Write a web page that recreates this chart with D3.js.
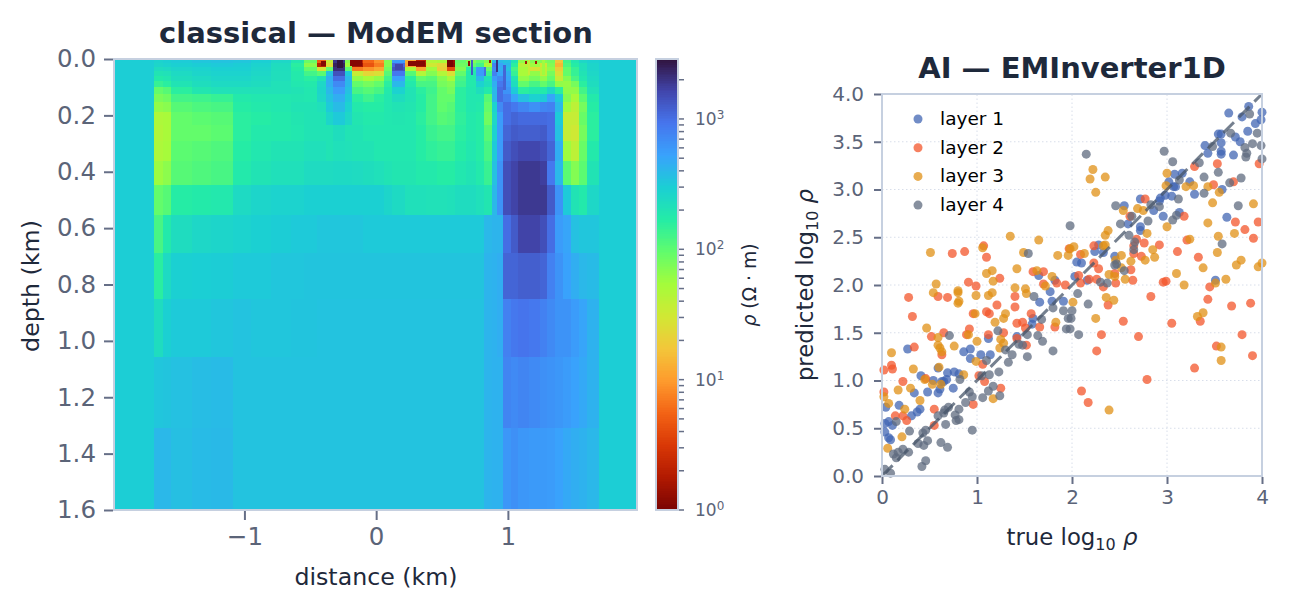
<!DOCTYPE html>
<html>
<head>
<meta charset="utf-8">
<script src="https://cdnjs.cloudflare.com/ajax/libs/d3/7.8.5/d3.min.js"></script>
<style>
	html, body { margin: 0; padding: 0; background: #fff; }
	svg { display: block; }
	text { font-family: "DejaVu Sans", sans-serif; }
</style>
</head>
<body>
<script>
// section mesh: cell edges in km
var xEdges = [-1.99,-1.69,-1.62,-1.555,-1.4,-1.25,-1.09,-0.95,-0.8,-0.65,-0.55,-0.45,-0.38,-0.33,-0.24,-0.18,-0.1,-0.02,0.06,0.12,0.22,0.3,0.38,0.46,0.54,0.6,0.68,0.76,0.82,0.88,0.92,0.96,1.02,1.08,1.16,1.24,1.3,1.36,1.42,1.48,1.54,1.6,1.69,1.98];
var depthEdges = [0,0.014,0.028,0.043,0.06,0.078,0.099,0.124,0.152,0.188,0.234,0.291,0.362,0.447,0.553,0.688,0.851,1.057,1.309,1.6];

// log10 resistivity per depth row, one value per x cell
var logRho = [
[2.477,2.44,2.46,2.49,2.52,2.54,2.52,2.47,2.4,2.27,1.95,0.7,1.55,3.3,1.85,0.35,0.75,0.95,1.85,2.75,1.1,0.3,1.65,1.7,0.15,1.97,1.85,1.97,1.85,2.6,2.6,2.55,2.3,1.8,1.85,1.85,1.9,1.25,2.1,2.27,2.4,2.45,2.477],
[2.477,2.42,2.44,2.46,2.48,2.5,2.48,2.44,2.36,2.2,1.82,0.3,1.4,3.38,1.75,0.2,0.65,0.85,1.85,3.02,1.05,0.2,1.5,1.35,0.1,1.92,1.97,2.1,1.7,2.9,2.7,2.6,2.2,1.62,1.75,1.5,1.85,1.15,2.05,2.22,2.33,2.42,2.477],
[2.477,2.36,2.38,2.42,2.44,2.46,2.46,2.42,2.35,2.22,1.97,1.45,1.97,3.32,2.0,0.85,0.95,1.05,1.92,3.12,1.7,1.05,1.75,1.3,0.6,1.85,2.2,2.75,1.97,2.85,2.65,2.55,2.1,1.7,1.45,1.6,1.8,1.3,1.97,2.15,2.33,2.42,2.477],
[2.477,2.3,2.32,2.38,2.42,2.44,2.44,2.4,2.34,2.25,2.1,2.0,2.55,3.15,2.5,1.55,1.35,1.42,2.02,2.95,2.02,1.65,1.85,1.65,1.42,1.97,2.25,2.75,2.12,2.9,2.7,2.65,2.15,1.7,1.8,1.6,1.9,1.42,1.97,2.15,2.3,2.4,2.477],
[2.477,2.24,2.27,2.35,2.38,2.41,2.41,2.38,2.34,2.25,2.2,2.3,2.65,3.0,2.6,1.8,1.72,1.8,2.12,2.72,2.2,1.97,2.02,1.85,1.72,2.08,2.25,2.6,2.3,2.75,2.85,2.7,2.3,1.8,1.9,1.8,1.97,1.55,1.85,2.08,2.27,2.38,2.477],
[2.477,2.15,2.2,2.3,2.35,2.38,2.38,2.36,2.32,2.27,2.25,2.4,2.65,2.85,2.6,1.97,1.9,1.97,2.2,2.6,2.25,2.08,2.08,1.9,1.85,2.12,2.25,2.45,2.35,2.65,2.95,2.75,2.35,1.97,2.08,1.97,2.08,1.8,1.78,1.9,2.2,2.36,2.477],
[2.477,1.97,2.02,2.2,2.28,2.32,2.32,2.32,2.32,2.3,2.27,2.42,2.6,2.75,2.55,2.08,2.02,2.08,2.25,2.45,2.3,2.2,2.12,1.97,1.9,2.2,2.27,2.35,2.25,2.6,3.0,2.8,2.5,2.2,2.25,2.25,2.4,2.2,1.8,1.8,2.1,2.32,2.477],
[2.477,1.88,1.92,2.1,2.12,2.15,2.25,2.27,2.27,2.28,2.27,2.4,2.55,2.65,2.5,2.2,2.12,2.2,2.27,2.36,2.3,2.22,2.1,1.97,1.97,2.2,2.27,2.27,2.02,2.6,3.0,2.9,2.7,2.55,2.45,2.5,2.7,2.5,1.85,1.7,2.0,2.25,2.477],
[2.477,1.8,1.83,2.02,2.06,2.08,2.22,2.25,2.27,2.3,2.3,2.33,2.5,2.58,2.45,2.25,2.22,2.22,2.27,2.3,2.28,2.22,2.1,1.98,2.02,2.2,2.27,2.25,1.97,2.45,2.85,3.0,2.95,2.88,2.82,2.88,2.9,2.6,1.75,1.6,1.9,2.22,2.477],
[2.477,1.68,1.7,1.97,2.0,2.02,2.2,2.22,2.25,2.28,2.3,2.3,2.42,2.5,2.4,2.28,2.25,2.25,2.27,2.28,2.27,2.2,2.1,2.02,2.05,2.18,2.25,2.22,1.92,2.4,2.75,3.0,3.05,3.02,3.02,3.02,3.0,2.5,1.55,1.55,1.95,2.2,2.477],
[2.477,1.66,1.7,1.97,1.97,2.0,2.2,2.25,2.25,2.27,2.3,2.3,2.3,2.35,2.3,2.3,2.27,2.27,2.27,2.27,2.27,2.22,2.14,2.1,2.1,2.2,2.25,2.22,2.02,2.45,2.75,3.05,3.1,3.08,3.08,3.1,3.0,2.55,1.55,1.5,1.9,2.2,2.477],
[2.477,1.68,1.72,2.0,2.02,2.05,2.22,2.27,2.3,2.3,2.33,2.33,2.3,2.33,2.32,2.3,2.3,2.27,2.27,2.27,2.27,2.22,2.18,2.15,2.15,2.22,2.27,2.22,2.08,2.5,2.75,3.1,3.16,3.2,3.2,3.16,3.05,2.65,1.75,1.6,1.95,2.25,2.477],
[2.477,1.76,1.82,2.02,2.05,2.08,2.25,2.3,2.33,2.33,2.37,2.37,2.37,2.38,2.38,2.37,2.35,2.33,2.3,2.28,2.28,2.25,2.25,2.22,2.22,2.27,2.3,2.25,2.14,2.55,2.8,3.16,3.22,3.27,3.27,3.24,2.95,2.6,2.0,1.85,2.0,2.3,2.477],
[2.477,1.97,2.02,2.22,2.24,2.26,2.38,2.42,2.44,2.44,2.46,2.46,2.46,2.46,2.46,2.46,2.46,2.46,2.42,2.38,2.33,2.33,2.32,2.32,2.33,2.36,2.36,2.33,2.28,2.6,2.8,3.16,3.22,3.27,3.27,3.27,3.1,2.8,2.5,2.3,2.25,2.4,2.477],
[2.477,2.08,2.25,2.36,2.4,2.42,2.44,2.46,2.48,2.5,2.5,2.52,2.52,2.52,2.52,2.52,2.5,2.5,2.5,2.5,2.5,2.5,2.5,2.5,2.5,2.5,2.5,2.5,2.6,2.62,2.62,3.0,3.1,3.22,3.22,3.16,3.0,2.75,2.7,2.55,2.52,2.52,2.477],
[2.477,2.2,2.38,2.46,2.47,2.48,2.5,2.5,2.52,2.52,2.53,2.53,2.53,2.53,2.53,2.53,2.53,2.53,2.53,2.53,2.53,2.53,2.53,2.53,2.53,2.53,2.53,2.53,2.62,2.63,2.65,3.05,3.05,3.08,3.08,3.05,2.9,2.8,2.72,2.65,2.6,2.58,2.477],
[2.477,2.36,2.46,2.5,2.5,2.52,2.54,2.52,2.52,2.53,2.53,2.54,2.54,2.54,2.54,2.54,2.54,2.54,2.54,2.54,2.54,2.54,2.54,2.54,2.54,2.54,2.54,2.54,2.62,2.63,2.65,2.9,2.95,2.97,2.95,2.9,2.85,2.8,2.8,2.75,2.7,2.63,2.477],
[2.477,2.52,2.53,2.55,2.57,2.58,2.54,2.54,2.54,2.54,2.54,2.54,2.54,2.54,2.54,2.54,2.54,2.54,2.54,2.54,2.54,2.54,2.54,2.54,2.54,2.54,2.54,2.54,2.62,2.63,2.63,2.88,2.85,2.88,2.85,2.82,2.8,2.78,2.75,2.72,2.68,2.63,2.477],
[2.477,2.6,2.6,2.56,2.58,2.59,2.54,2.54,2.54,2.54,2.54,2.54,2.54,2.54,2.54,2.54,2.54,2.54,2.54,2.54,2.54,2.54,2.54,2.54,2.54,2.54,2.54,2.54,2.62,2.63,2.63,2.78,2.82,2.78,2.76,2.76,2.75,2.72,2.68,2.65,2.63,2.6,2.477]
];

// thin near-surface cells: x0, x1, d0, d1 (km), log10 rho
var surfaceCells = [
[-0.42,-0.377,0.007,0.025,0.05],[-0.30,-0.25,0,0.032,3.45],[-0.2,-0.11,0.004,0.025,0.05],
[0.14,0.2,0.018,0.04,3.2],[0.24,0.37,0.007,0.025,0.05],[0.535,0.58,0.004,0.03,0],
[0.695,0.715,0.007,0.025,0.1],[0.72,0.735,0,0.055,3.1],[0.82,0.835,0.03,0.06,3.0],
[0.855,0.87,0.004,0.014,0.2],[0.91,0.925,0,0.045,3.3],[0.965,0.985,0.02,0.11,3.05],
[1.13,1.145,0.007,0.018,0.2],[1.205,1.22,0.007,0.018,0.2],[1.155,1.17,0.004,0.055,1.55],[1.26,1.28,0.004,0.055,1.75]
];

var depthTicks = [0,0.2,0.4,0.6,0.8,1.0,1.2,1.4,1.6];
var distTicks = [-1,0,1];
var barMajor = [1,10,100,1000];
var barExp = [0,1,2,3];
var barMinor = [2,3,4,5,6,7,8,9,20,30,40,50,60,70,80,90,200,300,400,500,600,700,800,900,2000];

// reversed turbo, evenly spaced stops, dark red at rho = 1
var turboStops = ["#7a0403","#b11901","#d93806","#f36315","#fe9b2d","#f3c63a","#d1e834","#a4fc3b","#61fc6c","#24eca6","#1bcfd4","#39a2fc","#4675ed","#4145ab","#30123b"];

// true / predicted log10 rho
var layer1 = [[3.86,3.87],[3.65,3.80],[3.79,3.76],[4.0,3.81],[3.99,3.73],[3.93,3.69],[3.85,3.61],[3.54,3.58],[3.57,3.58],[3.57,3.49],[3.72,3.55],[3.77,3.50],[3.40,3.46],[3.43,3.38],[3.57,3.40],[3.57,3.37],[3.70,3.36],[3.16,3.17],[3.08,3.16],[3.02,3.08],[3.24,3.08],[3.07,3.03],[3.09,3.03],[3.58,3.0],[3.29,2.95],[2.98,2.94],[2.93,2.91],[2.92,2.88],[3.05,2.93],[2.72,2.90],[2.55,2.83],[2.86,2.78],[3.13,2.76],[2.96,2.72],[3.63,2.71],[2.59,2.64],[2.72,2.61],[2.72,2.57],[2.28,2.42],[2.24,2.35],[2.33,2.34],[2.45,2.30],[2.05,2.24],[2.10,2.23],[2.03,2.09],[3.51,2.05],[2.16,2.05],[1.65,2.10],[1.82,2.05],[0.27,1.33],[0.86,1.30],[0.93,1.33],[0.93,1.23],[1.04,1.27],[1.14,1.27],[1.12,1.44],[0.59,1.13],[0.41,1.05],[0.69,1.08],[0.76,1.09],[0.81,1.07],[0.54,1.0],[0.68,1.01],[0.65,0.99],[0.63,0.99],[0.75,0.92],[0.61,0.91],[0.59,0.87],[0.48,0.88],[0.34,0.87],[0.18,0.74],[0.04,0.72],[0.40,0.70],[0.37,0.67],[0.31,0.63],[0.07,0.57],[0.03,0.55],[0.11,0.53],[0.03,0.46],[0.07,0.40],[0.09,0.38],[1.42,1.46],[1.59,1.65],[1.58,1.59],[1.66,1.82],[1.77,1.93],[1.79,1.83],[1.91,1.83]];
var layer2 = [[3.97,3.27],[3.53,3.27],[3.29,3.24],[3.70,3.08],[3.49,3.05],[2.77,2.90],[2.61,2.72],[3.18,2.72],[3.96,2.66],[3.72,2.66],[3.82,2.58],[3.91,2.49],[2.23,2.41],[2.68,2.48],[2.76,2.44],[2.92,2.42],[3.21,2.47],[2.65,2.41],[3.11,2.35],[3.33,2.29],[2.09,2.32],[2.23,2.23],[2.28,2.17],[2.73,2.30],[2.65,2.33],[2.62,2.16],[2.07,2.10],[2.18,2.06],[2.26,2.06],[2.45,2.12],[2.64,2.05],[2.46,2.02],[2.96,2.03],[2.99,2.04],[3.45,1.98],[2.33,1.98],[2.09,2.02],[0.74,2.33],[0.87,2.35],[1.07,2.41],[1.10,2.29],[1.59,2.14],[1.70,2.14],[1.24,2.07],[0.91,2.03],[0.99,1.99],[1.97,2.38],[1.84,2.02],[1.93,2.0],[1.70,2.01],[0.28,1.87],[0.32,1.67],[0.59,1.88],[0.69,1.87],[0.96,1.70],[1.10,1.72],[1.13,1.70],[1.21,1.79],[1.40,1.88],[1.40,1.77],[1.57,1.70],[1.42,1.60],[1.48,1.61],[1.51,1.55],[1.66,1.56],[1.82,1.56],[0.65,1.50],[0.52,1.46],[0.92,1.54],[0.89,1.48],[1.12,1.48],[1.28,1.50],[1.42,1.44],[1.52,1.37],[0.34,1.35],[0.63,1.27],[1.06,1.17],[0.10,1.16],[0.02,1.11],[0.11,1.12],[0.46,1.02],[0.22,0.99],[1.08,0.99],[1.02,1.05],[1.25,0.92],[0.02,0.88],[0.55,0.70],[0.96,0.75],[0.14,0.63],[0.22,0.63],[0.26,0.58],[0.55,0.53],[2.83,1.88],[2.38,1.79],[2.54,1.62],[2.31,1.48],[2.70,1.46],[2.26,1.31],[3.05,1.60],[3.35,1.62],[3.43,1.85],[3.68,1.78],[3.88,1.81],[3.79,1.48],[3.52,1.36],[3.90,1.26],[3.29,1.13],[2.79,1.01],[2.10,0.89],[2.17,0.77]];
var layer3 = [[2.22,3.21],[2.19,3.11],[2.35,3.13],[2.25,2.97],[3.0,3.17],[2.99,3.04],[3.2,3.03],[3.28,3.04],[3.43,3.03],[3.55,2.97],[3.48,2.86],[3.91,2.85],[2.54,2.78],[2.69,2.80],[2.75,2.78],[3.0,2.61],[3.43,2.65],[3.71,2.54],[3.54,2.51],[3.24,2.48],[2.38,2.57],[2.35,2.52],[2.79,2.54],[2.35,2.42],[2.33,2.41],[2.02,2.40],[1.98,2.38],[2.13,2.33],[2.85,2.37],[3.53,2.34],[2.52,2.31],[2.87,2.29],[2.77,2.26],[2.46,2.26],[2.62,2.25],[3.78,2.26],[3.73,2.21],[3.38,2.18],[3.96,2.19],[4.0,2.23],[2.52,2.18],[2.39,2.11],[2.45,2.09],[2.56,2.06],[3.10,2.12],[3.62,2.06],[3.18,2.0],[3.51,2.02],[0.51,2.34],[1.06,2.39],[1.35,2.51],[1.65,2.47],[1.49,2.34],[1.85,2.31],[1.96,2.31],[1.42,2.17],[1.16,2.15],[1.10,2.12],[1.17,2.04],[0.57,2.01],[1.63,2.15],[1.79,2.09],[0.80,1.94],[1.72,1.99],[0.54,1.92],[0.80,1.92],[0.80,1.81],[0.81,1.83],[0.99,1.89],[1.12,1.89],[1.16,1.92],[1.40,1.97],[1.51,1.96],[1.52,1.91],[0.98,1.70],[1.30,1.70],[1.19,1.61],[1.28,1.65],[1.83,1.61],[0.47,1.55],[0.59,1.45],[0.91,1.48],[1.00,1.41],[1.25,1.43],[1.28,1.39],[0.59,1.37],[0.61,1.34],[0.63,1.30],[0.76,1.36],[1.24,1.34],[0.10,1.29],[0.99,1.20],[0.60,1.14],[0.33,1.12],[0.86,1.06],[0.45,1.01],[0.53,0.96],[0.62,0.96],[0.17,0.90],[0.30,0.92],[0.02,0.83],[0.07,0.76],[0.40,0.79],[0.24,0.70],[1.17,0.81],[0.21,0.41],[0.06,0.29],[2.36,1.87],[2.44,1.84],[2.25,1.65],[3.32,1.67],[3.38,1.71],[3.57,1.35],[3.57,1.21],[2.39,0.69],[2.01,1.82]];
var layer4 = [[3.87,3.79],[3.67,3.59],[3.95,3.59],[3.90,3.48],[3.99,3.46],[3.48,3.45],[3.82,3.44],[3.84,3.38],[3.83,3.34],[2.97,3.40],[2.15,3.37],[3.06,3.29],[3.34,3.28],[4.0,3.32],[3.54,3.18],[3.39,3.13],[3.78,3.12],[3.66,3.07],[3.13,3.10],[3.39,2.96],[3.12,2.90],[3.75,2.83],[2.92,2.82],[2.83,2.84],[2.46,2.83],[3.10,2.73],[3.06,2.68],[2.80,2.67],[2.51,2.64],[2.63,2.72],[1.98,2.62],[2.60,2.52],[2.66,2.45],[2.65,2.37],[3.58,2.43],[2.47,2.22],[2.45,2.21],[2.55,2.15],[2.30,2.03],[2.37,2.02],[1.54,2.33],[0.71,1.47],[1.22,1.52],[1.53,1.48],[1.64,1.47],[1.68,1.64],[1.60,1.88],[1.80,1.76],[1.91,1.73],[1.96,1.65],[1.94,1.54],[1.69,1.41],[1.80,1.31],[1.53,1.25],[1.48,1.37],[1.44,1.38],[1.30,1.32],[1.37,1.27],[1.33,1.19],[1.10,1.21],[1.23,1.09],[1.13,1.06],[1.05,1.05],[1.17,0.94],[1.12,0.89],[1.06,0.82],[1.24,0.84],[0.82,1.01],[0.92,0.88],[0.95,0.83],[0.88,0.77],[0.81,0.70],[0.70,0.72],[0.66,0.69],[0.65,0.66],[0.59,0.63],[0.77,0.64],[0.81,0.59],[0.78,0.58],[0.67,0.54],[0.95,0.48],[0.46,0.48],[0.29,0.47],[0.43,0.45],[0.48,0.37],[0.38,0.34],[0.44,0.32],[0.62,0.35],[0.69,0.30],[0.22,0.28],[0.28,0.25],[0.12,0.23],[0.17,0.25],[0.15,0.19],[0.46,0.16],[0.42,0.10],[0.03,0.07],[0.09,0.03],[0.15,0.57],[2.06,1.91],[2.17,1.80],[2.0,1.73],[1.99,1.65],[1.98,1.54],[2.07,1.48]];

var layerNames = ["layer 1","layer 2","layer 3","layer 4"];
var layerColors = ["#4266b3","#f3562b","#e09015","#5f6b7f"];
var layers = [layer1, layer2, layer3, layer4];
var scatterX = [0,1,2,3,4];
var scatterY = [0,0.5,1,1.5,2,2.5,3,3.5,4];

var ink = "#1e293b", tickInk = "#5b6478", spine = "#c6d0e0";

var svg = d3.select("body").append("svg")
	.attr("width", 1290)
	.attr("height", 610);

/*************** left panel ***************/
var x = d3.scaleLinear().domain([-1.99, 1.98]).range([114, 637]);
var y = d3.scaleLinear().domain([0, 1.6]).range([59, 510]);
var logMax = 3.46;
var color = d3.scaleLinear()
	.domain(turboStops.map(function (c, i) { return logMax * i / (turboStops.length - 1) }))
	.range(turboStops)
	.clamp(true);

var cells = [];
logRho.forEach(function (row, i) {
	row.forEach(function (v, j) {
		cells.push({ x0: xEdges[j], x1: xEdges[j + 1], d0: depthEdges[i], d1: depthEdges[i + 1], v: v });
	});
});
surfaceCells.forEach(function (c) {
	cells.push({ x0: c[0], x1: c[1], d0: c[2], d1: c[3], v: c[4] });
});

svg.append("g").selectAll("rect")
	.data(cells)
	.enter().append("rect")
	.attr("x", function (d) { return x(d.x0) })
	.attr("y", function (d) { return y(d.d0) })
	.attr("width", function (d) { return x(d.x1) - x(d.x0) })
	.attr("height", function (d) { return y(d.d1) - y(d.d0) })
	.attr("fill", function (d) { return color(d.v) })
	.attr("shape-rendering", "crispEdges");

function styleAxis(g, fontSize) {
	g.select(".domain").remove();
	g.selectAll(".tick line").attr("stroke", "#666f87").attr("stroke-width", 2);
	g.selectAll(".tick text").attr("fill", tickInk).attr("font-size", fontSize)
		.attr("font-family", '"DejaVu Sans", sans-serif');
}

function frame(x0, y0, x1, y1) {
	svg.append("rect")
		.attr("x", x0).attr("y", y0)
		.attr("width", x1 - x0).attr("height", y1 - y0)
		.attr("fill", "none")
		.attr("stroke", spine)
		.attr("stroke-width", 2);
}

frame(114, 59, 637, 510);

svg.append("g").attr("transform", "translate(113,0)")
	.call(d3.axisLeft(y).tickValues(depthTicks).tickSize(9).tickPadding(8).tickFormat(d3.format(".1f")))
	.call(styleAxis, 24.5);
svg.append("g").attr("transform", "translate(0,511)")
	.call(d3.axisBottom(x).tickValues(distTicks).tickSize(9).tickPadding(8).tickFormat(d3.format(".0f")))
	.call(styleAxis, 24.5);

svg.append("text").attr("x", 376).attr("y", 43).attr("text-anchor", "middle")
	.attr("font-size", 29).attr("font-weight", "bold").attr("fill", ink)
	.text("classical — ModEM section");
svg.append("text").attr("x", 376).attr("y", 585).attr("text-anchor", "middle")
	.attr("font-size", 23.7).attr("fill", ink)
	.text("distance (km)");
svg.append("text").attr("transform", "translate(39,286) rotate(-90)").attr("text-anchor", "middle")
	.attr("font-size", 23.7).attr("fill", ink)
	.text("depth (km)");

/*************** colorbar ***************/
var barScale = d3.scaleLinear().domain([0, logMax]).range([510, 59]);
var barSteps = d3.range(0, logMax, logMax / 256);
svg.append("g").selectAll("rect")
	.data(barSteps)
	.enter().append("rect")
	.attr("x", 656).attr("width", 22)
	.attr("y", function (d) { return barScale(d) - 2 })
	.attr("height", 2.6)
	.attr("fill", function (d) { return color(d) })
	.attr("shape-rendering", "crispEdges");
frame(656, 59, 678, 510);

var barLog = d3.scaleLog().domain([1, Math.pow(10, logMax)]).range([510, 59]);
svg.append("g").selectAll("line")
	.data(barMajor.concat(barMinor))
	.enter().append("line")
	.attr("x1", 679).attr("x2", 684)
	.attr("y1", function (d) { return barLog(d) })
	.attr("y2", function (d) { return barLog(d) })
	.attr("stroke", "#666f87").attr("stroke-width", 1.5);

var barLabels = svg.append("g").selectAll("text")
	.data(barMajor)
	.enter().append("text")
	.attr("x", 695)
	.attr("y", function (d) { return barLog(d) + 6 })
	.attr("font-size", 17).attr("fill", tickInk)
	.text("10");
barLabels.append("tspan")
	.attr("dy", -6).attr("font-size", 12)
	.text(function (d, i) { return barExp[i] });

svg.append("text").attr("transform", "translate(756,285) rotate(-90)").attr("text-anchor", "middle")
	.attr("font-size", 18.8).attr("fill", ink)
	.html('<tspan font-style="italic">ρ</tspan> (Ω · m)');

/*************** right panel ***************/
var sx = d3.scaleLinear().domain([0, 4]).range([882, 1262]);
var sy = d3.scaleLinear().domain([0, 4]).range([476, 94]);

svg.append("g").selectAll("line")
	.data(scatterX.slice(1, 4))
	.enter().append("line")
	.attr("x1", function (d) { return sx(d) }).attr("x2", function (d) { return sx(d) })
	.attr("y1", sy(0)).attr("y2", sy(4))
	.attr("stroke", "#d8deea").attr("stroke-width", 1).attr("stroke-dasharray", "1.5,2.5");
svg.append("g").selectAll("line")
	.data(scatterY.slice(1, 8))
	.enter().append("line")
	.attr("y1", function (d) { return sy(d) }).attr("y2", function (d) { return sy(d) })
	.attr("x1", sx(0)).attr("x2", sx(4))
	.attr("stroke", "#d8deea").attr("stroke-width", 1).attr("stroke-dasharray", "1.5,2.5");

layers.forEach(function (pts, i) {
	svg.append("g").selectAll("circle")
		.data(pts)
		.enter().append("circle")
		.attr("cx", function (d) { return sx(d[0]) })
		.attr("cy", function (d) { return sy(d[1]) })
		.attr("r", 4.5)
		.attr("fill", layerColors[i])
		.attr("fill-opacity", 0.75);
});

svg.append("line")
	.attr("x1", sx(0)).attr("y1", sy(0)).attr("x2", sx(4)).attr("y2", sy(4))
	.attr("stroke", "#475569").attr("stroke-opacity", 0.75)
	.attr("stroke-width", 3).attr("stroke-dasharray", "15,7");

frame(882, 94, 1262, 476);

svg.append("g").attr("transform", "translate(881,0)")
	.call(d3.axisLeft(sy).tickValues(scatterY).tickSize(7).tickPadding(10).tickFormat(d3.format(".1f")))
	.call(styleAxis, 20);
svg.append("g").attr("transform", "translate(0,477)")
	.call(d3.axisBottom(sx).tickValues(scatterX).tickSize(7).tickPadding(6).tickFormat(d3.format(".0f")))
	.call(styleAxis, 20);

svg.append("text").attr("x", 1072).attr("y", 78).attr("text-anchor", "middle")
	.attr("font-size", 29).attr("font-weight", "bold").attr("fill", ink)
	.text("AI — EMInverter1D");
svg.append("text").attr("x", 1072).attr("y", 545).attr("text-anchor", "middle")
	.attr("font-size", 22.8).attr("fill", ink)
	.html('true log<tspan dy="5" font-size="16">10</tspan><tspan dy="-5"> </tspan><tspan font-style="italic">ρ</tspan>');
svg.append("text").attr("transform", "translate(813,285) rotate(-90)").attr("text-anchor", "middle")
	.attr("font-size", 22.8).attr("fill", ink)
	.html('predicted log<tspan dy="5" font-size="16">10</tspan><tspan dy="-5"> </tspan><tspan font-style="italic">ρ</tspan>');

var legend = svg.append("g").selectAll("g")
	.data(layerNames)
	.enter().append("g")
	.attr("transform", function (d, i) { return "translate(918," + (119 + i * 28.7) + ")" });
legend.append("circle")
	.attr("r", 4.5)
	.attr("fill", function (d, i) { return layerColors[i] })
	.attr("fill-opacity", 0.75);
legend.append("text")
	.attr("x", 22).attr("y", 6)
	.attr("font-size", 18.5).attr("fill", "#000")
	.text(function (d) { return d });
</script>
</body>
</html>
